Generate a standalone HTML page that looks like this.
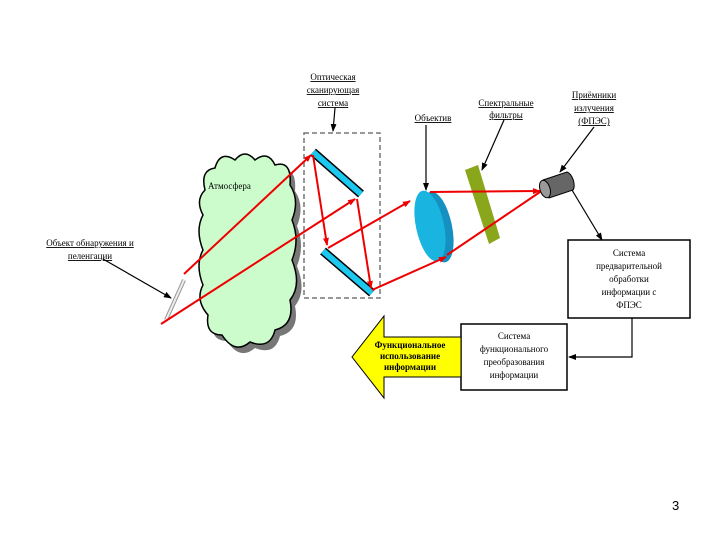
<!DOCTYPE html>
<html><head><meta charset="utf-8"><style>
body{margin:0;background:#fff}
svg{display:block}
text{font-family:"Liberation Serif",serif;font-size:9px;fill:#000}
</style></head><body>
<svg width="720" height="540" viewBox="0 0 720 540">
<defs>
<marker id="ar" markerWidth="8" markerHeight="8" refX="7" refY="4" orient="auto" markerUnits="userSpaceOnUse"><path d="M0,1 L8,4 L0,7Z" fill="#e00"/></marker>
<marker id="ab" markerWidth="8" markerHeight="8" refX="7" refY="4" orient="auto" markerUnits="userSpaceOnUse"><path d="M0,1 L8,4 L0,7Z" fill="#000"/></marker>
</defs>
<g transform="translate(5,6)" fill="#777">
<path d="M205,190 Q200,170 215,168 Q220,150 235,160 Q245,148 255,160 Q268,150 275,165 Q292,160 290,185 Q300,200 292,220 Q300,240 292,260 Q302,285 290,300 Q295,325 275,330 Q270,350 250,342 Q235,355 222,335 Q205,335 208,315 Q195,300 203,285 Q195,265 203,250 Q195,230 203,215 Q195,200 205,190Z"/>
</g>
<path d="M205,190 Q200,170 215,168 Q220,150 235,160 Q245,148 255,160 Q268,150 275,165 Q292,160 290,185 Q300,200 292,220 Q300,240 292,260 Q302,285 290,300 Q295,325 275,330 Q270,350 250,342 Q235,355 222,335 Q205,335 208,315 Q195,300 203,285 Q195,265 203,250 Q195,230 203,215 Q195,200 205,190Z" fill="#ccfccc" stroke="#000" stroke-width="1.5"/>
<text x="208" y="189">Атмосфера</text>
<rect x="304" y="133" width="76" height="165" fill="none" stroke="#777" stroke-width="1.5" stroke-dasharray="5,3"/>
<line x1="313" y1="152" x2="361" y2="194" stroke="#000" stroke-width="9"/>
<line x1="313" y1="152" x2="361" y2="194" stroke="#1ac8f0" stroke-width="6"/>
<line x1="323" y1="251" x2="372" y2="293" stroke="#000" stroke-width="9"/>
<line x1="323" y1="251" x2="372" y2="293" stroke="#1ac8f0" stroke-width="6"/>
<line x1="166" y1="320" x2="184" y2="280" stroke="#999" stroke-width="4"/>
<line x1="166" y1="320" x2="184" y2="280" stroke="#eee" stroke-width="2"/>
<polygon points="465,170 478,165 500,238 489,244" fill="#8aa61a"/>
<ellipse cx="438" cy="227" rx="14" ry="36" transform="rotate(-12 438 227)" fill="#1590c0"/>
<ellipse cx="430" cy="226" rx="14" ry="36" transform="rotate(-12 430 226)" fill="#1ab4e0"/>
<path d="M543,180 L567,172 A5,10 -18 0 1 573,190 L549,198Z" fill="#666" stroke="#000"/>
<ellipse cx="545" cy="189" rx="5" ry="9" transform="rotate(-18 545 189)" fill="#999" stroke="#000"/>
<g stroke="#e00" stroke-width="2" fill="none">
<line x1="184" y1="274" x2="311" y2="155" marker-end="url(#ar)"/>
<line x1="161" y1="324" x2="355" y2="199" marker-end="url(#ar)"/>
<line x1="313" y1="155" x2="327" y2="245" marker-end="url(#ar)"/>
<line x1="357" y1="199" x2="371" y2="288" marker-end="url(#ar)"/>
<line x1="328" y1="248" x2="410" y2="201" marker-end="url(#ar)"/>
<line x1="372" y1="290" x2="446" y2="257" marker-end="url(#ar)"/>
<line x1="430" y1="192" x2="540" y2="191" marker-end="url(#ar)"/>
<line x1="447" y1="255" x2="540" y2="192"/>
</g>
<g stroke="#000" stroke-width="1.2">
<line x1="335" y1="108" x2="333" y2="131" marker-end="url(#ab)"/>
<line x1="426" y1="125" x2="426" y2="190" marker-end="url(#ab)"/>
<line x1="504" y1="120" x2="482" y2="170" marker-end="url(#ab)"/>
<line x1="594" y1="127" x2="560" y2="172" marker-end="url(#ab)"/>
<line x1="572" y1="190" x2="602" y2="240" marker-end="url(#ab)"/>
<line x1="103" y1="259" x2="171" y2="298" marker-end="url(#ab)"/>
<polyline points="632,318 632,357 569,357" fill="none" marker-end="url(#ab)"/>
</g>
<rect x="568" y="240" width="122" height="78" fill="#fff" stroke="#000" stroke-width="1.5"/>
<text x="629" y="256" text-anchor="middle">Система</text>
<text x="629" y="269" text-anchor="middle">предварительной</text>
<text x="629" y="282" text-anchor="middle">обработки</text>
<text x="629" y="295" text-anchor="middle">информации с</text>
<text x="629" y="308" text-anchor="middle">ФПЭС</text>
<rect x="461" y="324" width="106" height="66" fill="#fff" stroke="#000" stroke-width="1.5"/>
<text x="514" y="339" text-anchor="middle">Система</text>
<text x="514" y="352" text-anchor="middle">функционального</text>
<text x="514" y="365" text-anchor="middle">преобразования</text>
<text x="514" y="378" text-anchor="middle">информации</text>
<polygon points="461,337 384,337 384,316 352,357 384,398 384,377 461,377" fill="#ffff00" stroke="#000" stroke-width="1"/>
<text x="410" y="348" text-anchor="middle" font-weight="bold">Функциональное</text>
<text x="410" y="359" text-anchor="middle" font-weight="bold">использование</text>
<text x="410" y="370" text-anchor="middle" font-weight="bold">информации</text>
<g>
<text x="333" y="80" text-anchor="middle" text-decoration="underline">Оптическая</text>
<text x="333" y="93" text-anchor="middle" text-decoration="underline">сканирующая</text>
<text x="333" y="106" text-anchor="middle" text-decoration="underline">система</text>
<text x="433" y="121" text-anchor="middle" text-decoration="underline">Объектив</text>
<text x="506" y="106" text-anchor="middle" text-decoration="underline">Спектральные</text>
<text x="506" y="118" text-anchor="middle" text-decoration="underline">фильтры</text>
<text x="594" y="98" text-anchor="middle" text-decoration="underline">Приёмники</text>
<text x="594" y="111" text-anchor="middle" text-decoration="underline">излучения</text>
<text x="594" y="124" text-anchor="middle" text-decoration="underline">(ФПЭС)</text>
<text x="90" y="246" text-anchor="middle" text-decoration="underline">Объект  обнаружения и</text>
<text x="90" y="259" text-anchor="middle" text-decoration="underline">пеленгации</text>
</g>
<text x="672" y="510" style="font-family:'Liberation Sans',sans-serif;font-size:13px">3</text>
</svg>
</body></html>
